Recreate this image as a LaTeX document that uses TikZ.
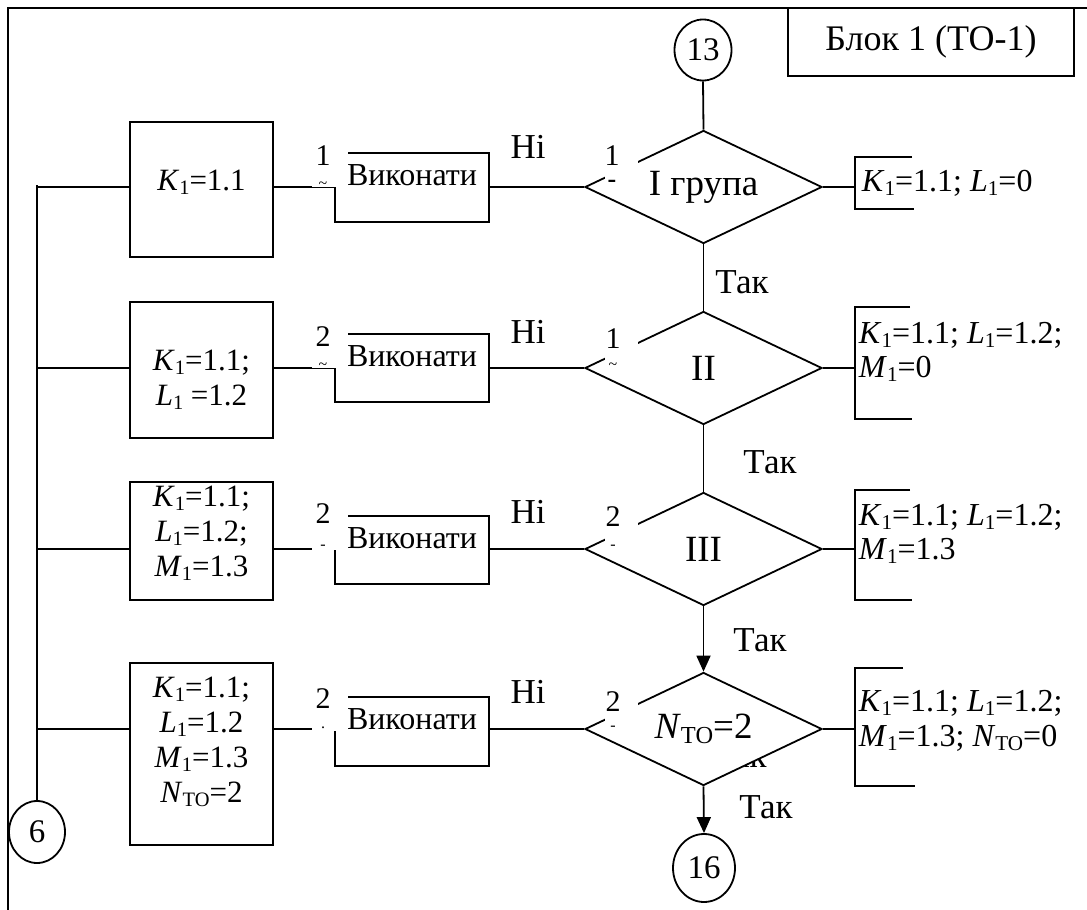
\documentclass[tikz,border=0pt]{standalone}
\usepackage{fontspec}
\setmainfont{Liberation Serif}
\usetikzlibrary{shapes.geometric,arrows.meta}
\newcommand{\lsub}[1]{\raisebox{-0.12em}{\scalebox{0.66}{#1}}}
\newcommand{\K}{\textit{K}\lsub{1}}
\newcommand{\LL}{\textit{L}\lsub{1}}
\newcommand{\M}{\textit{M}\lsub{1}}
\newcommand{\NT}{\textit{N}\lsub{ТО}}
\tikzset{
  txt/.style={font=\fontsize{31}{35}\selectfont, inner sep=0pt},
  rtxt/.style={font=\fontsize{32}{34.5}\selectfont, inner sep=0pt, anchor=west, align=left},
  vtxt/.style={font=\fontsize{32}{35}\selectfont, inner sep=0pt},
  big/.style={font=\fontsize{35}{38}\selectfont, inner sep=0pt},
  num/.style={font=\fontsize{30}{30}\selectfont, inner sep=0pt},
  lbox/.style={draw, minimum width=143pt, inner sep=0pt},
  vbox/.style={draw, minimum width=154pt, minimum height=68.5pt, inner sep=0pt},
  dia/.style={draw, diamond, aspect=2.1, fill=white, minimum width=237pt, minimum height=113pt, inner sep=0pt, font=\fontsize{37}{40}\selectfont},
  circ/.style={draw, ellipse, inner sep=0pt, font=\fontsize{33}{36}\selectfont},
  wl/.style={fill=white, inner sep=0pt, anchor=north west},
  mk/.style={font=\fontsize{16}{16}\selectfont, inner sep=0pt},
  arr/.style={-{Triangle[length=16pt,width=14pt]}},
}
\begin{document}
\begin{tikzpicture}[x=1pt,y=-1pt,line width=1.8pt]
\useasboundingbox (0,0) rectangle (1087,910);
% frame
\coordinate (fbl) at (8,910);
\coordinate (ftl) at (8,8);
\coordinate (ftr) at (1087,8);
\draw (fbl) -- (ftl) -- (ftr);
\node[draw, minimum width=286pt, minimum height=68pt, inner sep=0pt, font=\fontsize{36}{40}\selectfont] (title) at (931,42) {Блок 1 (ТО-1)};

% circles
\node[circ, minimum width=57pt, minimum height=61pt] (c13) at (703,50) {13};
\node[circ, minimum width=62pt, minimum height=68pt] (c16) at (704,868) {16};
\node[circ, minimum width=56pt, minimum height=62pt] (c6) at (37,832) {6};

% partly hidden label under the last diamond
\node[big] (tak5) at (740,756) {Так};

% diamonds
\node[dia] (d1) at (703.5,187) {I група};
\node[dia] (d2) at (703.5,368) {II};
\node[dia] (d3) at (703.5,549) {III};
\node[dia] (d4) at (703.5,729) {\NT=2};

\draw (c13.south) -- (d1.north);
\draw (d1.south) -- (d2.north);
\draw (d2.south) -- (d3.north);
\draw[arr] (d3.south) -- (d4.north);
\draw[arr] (d4.south) -- (c16.north);

% left boxes
\node[lbox, minimum height=135pt] (b1) at (201.5,189.5) {};
\node[lbox, minimum height=136pt] (b2) at (201.5,370) {};
\node[lbox, minimum height=118pt] (b3) at (201.5,541) {};
\node[lbox, minimum height=182pt] (b4) at (201.5,754) {};
\node[txt] (b1t) at (201.5,182) {\K=1.1};
\node[txt, align=center] (b2t) at (201.5,380) {\K=1.1;\\\LL\ =1.2};
\node[txt, align=center] (b3t) at (201.5,533) {\K=1.1;\\\LL=1.2;\\\M=1.3};
\node[txt, align=center] (b4t) at (201.5,742) {\K=1.1;\\\LL=1.2\\\M=1.3\\\NT=2};

% bus
\coordinate (bt) at (37,185);
\coordinate (j1) at (37,187);
\coordinate (j2) at (37,368);
\coordinate (j3) at (37,549);
\coordinate (j4) at (37,729);
\draw (c6.north) -- (bt);
\draw (j1) -- (j1 -| b1.west);
\draw (j2) -- (j2 -| b2.west);
\draw (j3) -- (j3 -| b3.west);
\draw (j4) -- (j4 -| b4.west);

% execute boxes
\node[vbox] (v1) at (412,187.5) {};
\node[vbox] (v2) at (412,368) {};
\node[vbox] (v3) at (412,550) {};
\node[vbox] (v4) at (412,731.5) {};
\node[vtxt] (v1t) at (412,175) {Виконати};
\node[vtxt] (v2t) at (412,356) {Виконати};
\node[vtxt] (v3t) at (412,538) {Виконати};
\node[vtxt] (v4t) at (412,719) {Виконати};

\draw (b1.east |- d1.west) -- (v1.west |- d1.west);
\draw (b2.east |- d2.west) -- (v2.west |- d2.west);
\draw (b3.east |- d3.west) -- (v3.west |- d3.west);
\draw (b4.east |- d4.west) -- (v4.west |- d4.west);
\draw (v1.east |- d1.west) -- (d1.west);
\draw (v2.east |- d2.west) -- (d2.west);
\draw (v3.east |- d3.west) -- (d3.west);
\draw (v4.east |- d4.west) -- (d4.west);

% brackets on the right
\coordinate (r1a) at (912,157); \coordinate (r1b) at (855,157);
\coordinate (r1c) at (855,209); \coordinate (r1d) at (914,209);
\coordinate (r2a) at (910,307); \coordinate (r2b) at (855,307);
\coordinate (r2c) at (855,419); \coordinate (r2d) at (912,419);
\coordinate (r3a) at (910,490); \coordinate (r3b) at (855,490);
\coordinate (r3c) at (855,600); \coordinate (r3d) at (912,600);
\coordinate (r4a) at (903,668); \coordinate (r4b) at (855,668);
\coordinate (r4c) at (855,786); \coordinate (r4d) at (915,786);
\draw (r1a) -- (r1b) -- (r1c) -- (r1d);
\draw (r2a) -- (r2b) -- (r2c) -- (r2d);
\draw (r3a) -- (r3b) -- (r3c) -- (r3d);
\draw (r4a) -- (r4b) -- (r4c) -- (r4d);
\draw (d1.east) -- (d1.east -| r1b);
\draw (d2.east) -- (d2.east -| r2b);
\draw (d3.east) -- (d3.east -| r3b);
\draw (d4.east) -- (d4.east -| r4b);
\node[rtxt] (t1) at (861,183) {\K=1.1; \LL=0};
\node[rtxt] (t2) at (858,352) {\K=1.1; \LL=1.2;\\\M=0};
\node[rtxt] (t3) at (858,534) {\K=1.1; \LL=1.2;\\\M=1.3};
\node[rtxt] (t4) at (858,721) {\K=1.1; \LL=1.2;\\\M=1.3; \NT=0};

% white patches with connector numbers
\node[wl, minimum width=36pt, minimum height=46pt] (w1) at (311,140) {};
\node[wl, minimum width=36pt, minimum height=46pt] (w2) at (311,321) {};
\node[wl, minimum width=36pt, minimum height=46pt] (w3) at (311,503) {};
\node[wl, minimum width=36pt, minimum height=46pt] (w4) at (311,684) {};
\node[num] (n1) at (323,156) {1};
\node[num] (n2) at (323,337) {2};
\node[num] (n3) at (323,514) {2};
\node[num] (n4) at (323,699) {2};
\node[mk] (m1) at (323,185) {\textasciitilde};
\node[mk] (m2) at (323,366) {\textasciitilde};
\node[mk] (m3) at (323,547) {-};
\node[mk] (m4) at (323,728) {.};

\node[wl, minimum width=33pt, minimum height=44pt] (wd1) at (604,141) {};
\node[wl, minimum width=33pt, minimum height=44pt] (wd2) at (604,322) {};
\node[wl, minimum width=33pt, minimum height=44pt] (wd3) at (604,503) {};
\node[wl, minimum width=33pt, minimum height=44pt] (wd4) at (604,683) {};
\node[num] (nd1) at (612,156) {1};
\node[num] (nd2) at (613,339) {1};
\node[num] (nd3) at (613,517) {2};
\node[num] (nd4) at (613,702) {2};
\node[mk, font=\fontsize{26}{26}\bfseries] (md1) at (612,184) {-};
\node[mk] (md2) at (613,366) {\textasciitilde};
\node[mk] (md3) at (613,547) {-};
\node[mk] (md4) at (613,728) {-};

% Ni / Tak labels
\node[big] (h1) at (528,147) {Ні};
\node[big] (h2) at (528,332) {Ні};
\node[big] (h3) at (528,512) {Ні};
\node[big] (h4) at (528,692) {Ні};
\node[big] (tak1) at (742,282) {Так};
\node[big] (tak2) at (770,462) {Так};
\node[big] (tak3) at (760,640) {Так};
\node[big] (tak4) at (766,807) {Так};
\end{tikzpicture}
\end{document}
